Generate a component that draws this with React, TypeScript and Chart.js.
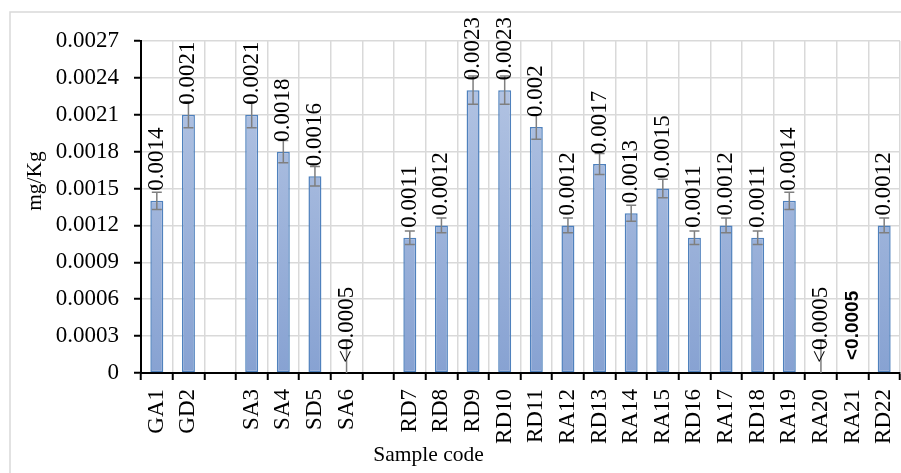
import { useEffect, useRef } from 'react';
import { Chart, registerables } from 'chart.js';

Chart.register(...registerables);

// Sample codes along the x axis ('' leaves an empty slot between groups)
const categories = [
  'GA1', 'GD2', '', 'SA3', 'SA4', 'SD5', 'SA6', '',
  'RD7', 'RD8', 'RD9', 'RD10', 'RD11', 'RA12', 'RD13', 'RA14',
  'RA15', 'RD16', 'RA17', 'RD18', 'RA19', 'RA20', 'RA21', 'RD22',
];

// Measured concentration, mg/Kg (0 = below detection limit)
const concentrations = [
  0.0014, 0.0021, null, 0.0021, 0.0018, 0.0016, 0, null,
  0.0011, 0.0012, 0.0023, 0.0023, 0.002, 0.0012, 0.0017, 0.0013,
  0.0015, 0.0011, 0.0012, 0.0011, 0.0014, 0, 0, 0.0012,
];

// Error bar half-length, mg/Kg
const errorMargins = [
  0.00007, 0.000105, null, 0.000105, 0.00009, 0.00008, 0.00027, null,
  0.000055, 0.00006, 0.000115, 0.000115, 0.0001, 0.00006, 0.000085, 0.000065,
  0.000075, 0.000055, 0.00006, 0.000055, 0.00007, 0.00027, null, 0.00006,
];

// Text printed above each bar
const valueLabels = [
  '0.0014', '0.0021', '', '0.0021', '0.0018', '0.0016', '<0.0005', '',
  '0.0011', '0.0012', '0.0023', '0.0023', '0.002', '0.0012', '0.0017', '0.0013',
  '0.0015', '0.0011', '0.0012', '0.0011', '0.0014', '<0.0005', '<0.0005', '0.0012',
];

// Samples whose label is set in bold sans-serif
const boldLabelCodes = ['RA21'];

// Y axis range and tick step
const yMin = 0;
const yMax = 0.0027;
const yStep = 0.0003;

const yTitle = 'mg/Kg';
const xTitle = 'Sample code';

const SERIF = "'Times New Roman', 'Liberation Serif', serif";
const SANS = "Arial, 'Liberation Sans', sans-serif";

const framePlugin = {
  id: 'frame',
  beforeDraw(chart: any) {
    const c = chart.ctx;
    c.save();
    c.fillStyle = '#ffffff';
    c.fillRect(0, 0, chart.width, chart.height);
    c.strokeStyle = '#d9d9d9';
    c.lineWidth = 1.5;
    c.strokeRect(10, 12, chart.width + 20, chart.height + 20);
    c.restore();
  },
};

const annotatePlugin = {
  id: 'annotate',
  afterDatasetsDraw(chart: any) {
    const c = chart.ctx;
    const meta = chart.getDatasetMeta(0);
    const yScale = chart.scales.y;
    const area = chart.chartArea;

    // error bars, kept inside the plot area
    c.save();
    c.beginPath();
    c.rect(area.left, 0, area.right - area.left, area.bottom);
    c.clip();
    c.strokeStyle = '#7f7f7f';
    c.lineWidth = 1.5;
    meta.data.forEach((el: any, i: number) => {
      const v = concentrations[i];
      const e = errorMargins[i];
      if (v === null || e === null || e === undefined) return;
      const top = yScale.getPixelForValue(v + e);
      const bot = yScale.getPixelForValue(v - e);
      const x = el.x;
      c.beginPath();
      c.moveTo(x, top);
      c.lineTo(x, bot);
      c.moveTo(x - 5, top);
      c.lineTo(x + 5, top);
      c.moveTo(x - 5, bot);
      c.lineTo(x + 5, bot);
      c.stroke();
    });
    c.restore();

    // rotated value labels
    meta.data.forEach((el: any, i: number) => {
      const text = valueLabels[i];
      if (!text) return;
      const bold = boldLabelCodes.includes(categories[i]);
      c.save();
      c.translate(el.x, el.y - (bold ? 13 : 10));
      c.rotate(-Math.PI / 2);
      c.font = bold ? `bold 19px ${SANS}` : `23px ${SERIF}`;
      c.fillStyle = '#000000';
      c.textAlign = 'left';
      c.textBaseline = 'middle';
      c.fillText(text, 0, 0);
      c.restore();
    });
  },
  afterDraw(chart: any) {
    const c = chart.ctx;
    c.save();
    c.fillStyle = '#000000';
    c.font = `21.5px ${SERIF}`;
    c.textAlign = 'center';
    c.textBaseline = 'middle';
    c.fillText(xTitle, 428.5, 455);
    c.translate(35.5, 181);
    c.rotate(-Math.PI / 2);
    c.fillText(yTitle, 0, 0);
    c.restore();
  },
};

export default function App() {
  const canvasRef = useRef<HTMLCanvasElement | null>(null);

  useEffect(() => {
    const canvas = canvasRef.current;
    if (!canvas) return;

    const barFill = (ctx: any) => {
      const { chart } = ctx;
      const area = chart.chartArea;
      if (!area) return '#9ab0da';
      const g = chart.ctx.createLinearGradient(0, area.top, 0, area.bottom);
      g.addColorStop(0, '#b8c8e5');
      g.addColorStop(1, '#87a2d2');
      return g;
    };

    const gridCommon = {
      color: '#d9d9d9',
      lineWidth: 1.5,
      tickColor: '#000000',
      tickWidth: 2,
      tickLength: 7,
    };

    const chart = new Chart(canvas, {
      type: 'bar',
      data: {
        labels: categories,
        datasets: [
          {
            data: concentrations,
            backgroundColor: barFill,
            borderColor: '#4f81bd',
            borderWidth: (ctx: any) => (ctx.raw ? 1.5 : 0),
            borderSkipped: false,
            categoryPercentage: 1,
            barPercentage: 0.41,
          },
        ],
      },
      plugins: [framePlugin, annotatePlugin],
      options: {
        responsive: false,
        animation: false,
        layout: { padding: { top: 41, right: 1, left: 0, bottom: 0 } },
        plugins: {
          legend: { display: false },
          tooltip: { enabled: false },
        },
        scales: {
          x: {
            grid: { ...gridCommon, offset: true },
            border: { color: '#000000', width: 2 },
            ticks: {
              color: '#000000',
              font: { family: SERIF, size: 23 },
              minRotation: 90,
              maxRotation: 90,
              autoSkip: false,
              padding: 9,
            },
            afterFit(scale: any) {
              scale.height = 100;
              scale.paddingLeft = 0;
              scale.paddingRight = 0;
            },
          },
          y: {
            min: yMin,
            max: yMax,
            grid: gridCommon,
            border: { color: '#000000', width: 2 },
            ticks: {
              stepSize: yStep,
              color: '#000000',
              font: { family: SERIF, size: 23 },
              padding: 15,
              callback: (v: any) => (Number(v) === 0 ? '0' : Number(v).toFixed(4)),
            },
            afterFit(scale: any) {
              scale.width = 141;
              scale.paddingTop = 0;
              scale.paddingBottom = 0;
            },
          },
        },
      } as any,
    });

    return () => chart.destroy();
  }, []);

  return (
    <div style={{ position: 'fixed', left: 0, top: 0, width: 901, height: 473, background: '#fff' }}>
      <canvas ref={canvasRef} width={901} height={473} style={{ display: 'block' }} />
    </div>
  );
}
